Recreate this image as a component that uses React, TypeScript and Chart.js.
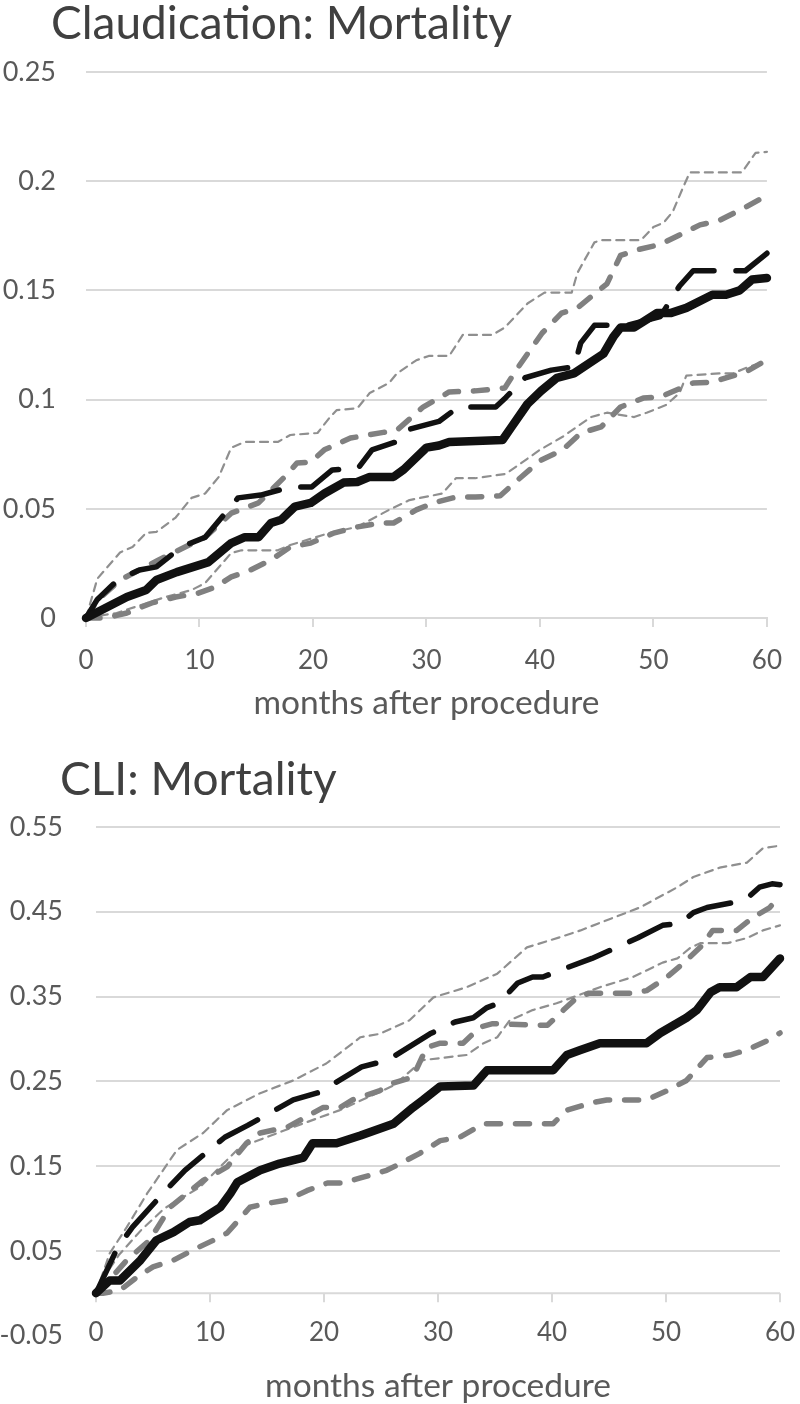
import React, { useEffect, useRef } from "react";
import { Chart, registerables } from "chart.js";

Chart.register(...registerables);

const FONT = "Lato, 'Open Sans', sans-serif";

// ---------- Claudication: Mortality ----------
const claudObsMonths = [0, 1.5, 3.6, 5.3, 6.2, 8, 10.8, 12.8, 14, 15.2, 16.3, 17.2, 18.4, 19.8, 21, 22.7, 23.9, 25, 27.1, 28, 30, 31.1, 32, 36.7, 37.5, 38.9, 40.1, 41.5, 43, 45.6, 46.5, 47.1, 48.3, 50.3, 51.5, 52.9, 55.2, 56.4, 57.6, 58.7, 60];
const claudObs = [0, 0.004, 0.0096, 0.0128, 0.0174, 0.021, 0.0256, 0.0343, 0.037, 0.037, 0.0435, 0.045, 0.051, 0.0527, 0.057, 0.062, 0.0623, 0.0646, 0.0646, 0.068, 0.078, 0.079, 0.0806, 0.0815, 0.0875, 0.098, 0.104, 0.11, 0.112, 0.121, 0.129, 0.133, 0.133, 0.1396, 0.1396, 0.142, 0.148, 0.148, 0.15, 0.155, 0.1557];

const claudPredMonths = [0, 1, 2.8, 4.7, 6.2, 8.4, 10.5, 13.4, 15.4, 18, 19.9, 21.7, 24, 25.2, 27.3, 28.2, 31.1, 32.8, 36.1, 37, 38.7, 41, 43, 43.6, 44.8, 47.7, 50.6, 52.3, 53.5, 58.1, 60];
const claudPred = [0, 0.0085, 0.0174, 0.022, 0.0234, 0.0325, 0.037, 0.055, 0.0563, 0.06, 0.06, 0.0678, 0.0687, 0.077, 0.0806, 0.086, 0.09, 0.0966, 0.0966, 0.101, 0.11, 0.1135, 0.115, 0.126, 0.134, 0.134, 0.138, 0.152, 0.159, 0.159, 0.167];

const claudUpperAMonths = [0, 1, 3, 6.4, 10.5, 12.8, 15.2, 17.5, 18.6, 19.8, 21, 23.3, 26.2, 27.4, 29.7, 32, 34.3, 36.9, 38.1, 40.2, 41.9, 43.3, 45.9, 47.1, 48.5, 50.6, 52.3, 54.1, 55.8, 58.1, 59.8];
const claudUpperA = [0, 0.008, 0.0174, 0.0266, 0.037, 0.048, 0.0527, 0.0646, 0.071, 0.0714, 0.077, 0.0824, 0.085, 0.086, 0.0966, 0.1035, 0.104, 0.1053, 0.115, 0.1305, 0.1396, 0.142, 0.153, 0.166, 0.1685, 0.171, 0.1754, 0.18, 0.182, 0.188, 0.193];

const claudLowerAMonths = [0, 1.8, 3.6, 5.8, 7.9, 9.9, 11.4, 12.8, 14.5, 16.3, 18, 19.8, 21.9, 23.9, 25.9, 27.1, 29.1, 30.6, 32.6, 34.3, 36.5, 38, 40, 42, 43.6, 45.4, 47.1, 49.1, 50.6, 52.3, 53.5, 55.2, 56.4, 58.1, 59.6];
const claudLowerA = [0, 0, 0.0023, 0.0069, 0.0096, 0.0114, 0.0142, 0.0188, 0.022, 0.0266, 0.0325, 0.0343, 0.039, 0.0417, 0.0435, 0.0435, 0.0495, 0.0527, 0.0554, 0.0554, 0.056, 0.063, 0.072, 0.077, 0.0847, 0.0875, 0.0966, 0.1007, 0.1012, 0.105, 0.1076, 0.108, 0.11, 0.1126, 0.117];

const claudUpperBMonths = [0, 1, 3, 4.1, 5.3, 6.2, 7.9, 9.3, 10.5, 11.7, 12.8, 14, 16.9, 18, 20.4, 21.5, 22.1, 23.9, 25, 26.7, 27.4, 29.1, 30.2, 32, 33.2, 35.8, 36.9, 38.9, 40.4, 42.8, 43.3, 44.8, 45.4, 48.9, 50, 50.9, 51.7, 52.6, 53.2, 57.8, 59, 60];
const claudUpperB = [0, 0.018, 0.03, 0.0325, 0.039, 0.0394, 0.046, 0.055, 0.057, 0.0646, 0.078, 0.0806, 0.0806, 0.0838, 0.0847, 0.092, 0.0952, 0.096, 0.103, 0.1076, 0.112, 0.118, 0.12, 0.12, 0.1296, 0.1296, 0.133, 0.144, 0.149, 0.149, 0.158, 0.172, 0.173, 0.173, 0.179, 0.181, 0.186, 0.197, 0.204, 0.204, 0.213, 0.2134];

const claudLowerBMonths = [0, 2.7, 7, 9.3, 10.5, 12.8, 13.7, 16.9, 18, 21.5, 23.9, 26.7, 28.5, 31.4, 32.6, 34.3, 37, 40, 42, 44.5, 45.9, 48.3, 49.4, 51.1, 52.3, 52.9, 55.8, 57, 58.4, 59.6];
const claudLowerB = [0, 0.0023, 0.0096, 0.0128, 0.016, 0.0298, 0.031, 0.031, 0.0334, 0.039, 0.0417, 0.0495, 0.054, 0.057, 0.064, 0.064, 0.066, 0.077, 0.083, 0.092, 0.094, 0.092, 0.094, 0.0975, 0.103, 0.111, 0.112, 0.112, 0.115, 0.117];

// ---------- CLI: Mortality ----------
const cliObsMonths = [0, 1.2, 2.1, 3.9, 5.3, 6.8, 8.2, 9.1, 10.9, 11.8, 12.4, 14.4, 16.1, 18.2, 19, 21.1, 23.2, 26.1, 27.8, 28.7, 30.2, 33.1, 34.3, 40.1, 41.3, 42.5, 44.2, 48.3, 49.5, 51.8, 52.7, 53.9, 54.7, 56.2, 57.4, 58.5, 60];
const cliObs = [0, 0.015, 0.015, 0.039, 0.0625, 0.072, 0.084, 0.086, 0.1014, 0.118, 0.131, 0.145, 0.153, 0.16, 0.177, 0.177, 0.186, 0.2, 0.219, 0.228, 0.244, 0.245, 0.263, 0.263, 0.281, 0.287, 0.295, 0.295, 0.307, 0.325, 0.334, 0.355, 0.361, 0.361, 0.373, 0.373, 0.395];

const cliPredMonths = [0, 1.9, 3.2, 6.3, 7.8, 11.3, 13.3, 17.3, 19.6, 23.3, 25.6, 29.3, 31.5, 33.1, 34.3, 35.3, 37, 38.3, 39.2, 41.3, 43.5, 47.5, 49.7, 51.2, 52.4, 53.6, 55.9, 57.2, 58.2, 59.3, 60];
const cliPred = [0, 0.054, 0.078, 0.124, 0.145, 0.184, 0.198, 0.228, 0.237, 0.267, 0.275, 0.306, 0.32, 0.325, 0.337, 0.342, 0.366, 0.373, 0.373, 0.384, 0.395, 0.419, 0.434, 0.436, 0.449, 0.455, 0.461, 0.467, 0.479, 0.483, 0.482];

const cliUpperAMonths = [0, 0.6, 2.7, 4.7, 6.5, 8, 9.4, 11.5, 13.2, 14.4, 16.8, 17.9, 19.9, 21.4, 22.5, 24.9, 26.1, 27.8, 29, 30.2, 32.2, 33.7, 34.8, 39.6, 41, 42.2, 43.3, 47.1, 48.3, 50.1, 51.5, 53, 54.1, 56.2, 57.6, 59.1, 60];
const cliUpperA = [0, 0.007, 0.039, 0.0625, 0.1014, 0.118, 0.133, 0.149, 0.177, 0.189, 0.196, 0.204, 0.219, 0.219, 0.228, 0.239, 0.248, 0.255, 0.29, 0.295, 0.295, 0.314, 0.318, 0.316, 0.334, 0.349, 0.354, 0.354, 0.357, 0.373, 0.389, 0.408, 0.428, 0.428, 0.443, 0.455, 0.469];

const cliLowerAMonths = [0, 0.6, 2.1, 3.6, 5, 6.8, 8.5, 10.3, 11.5, 13.5, 15, 16.8, 18.5, 20.3, 21.7, 23.2, 25.5, 26.7, 28.4, 30.2, 31.9, 34, 40.1, 41.3, 43.6, 44.8, 48.3, 50.1, 51.8, 53.6, 55.6, 57.1, 58.9, 60];
const cliLowerA = [0, 0, 0.0035, 0.019, 0.031, 0.039, 0.051, 0.0625, 0.071, 0.1014, 0.106, 0.11, 0.121, 0.13, 0.13, 0.136, 0.145, 0.153, 0.165, 0.18, 0.184, 0.2, 0.2, 0.216, 0.225, 0.228, 0.228, 0.239, 0.251, 0.278, 0.281, 0.287, 0.298, 0.307];

const cliUpperBMonths = [0, 1.2, 2.7, 4.5, 7.1, 9.4, 11.5, 14.4, 17.3, 20.2, 23.2, 24.9, 27.5, 29.6, 32.5, 35.2, 37.8, 40.7, 42.5, 44.8, 47.7, 51, 52.4, 54.7, 57.1, 58.5, 60];
const cliUpperB = [0, 0.047, 0.078, 0.118, 0.169, 0.189, 0.216, 0.236, 0.251, 0.271, 0.302, 0.306, 0.322, 0.349, 0.361, 0.377, 0.408, 0.42, 0.428, 0.44, 0.455, 0.479, 0.491, 0.502, 0.508, 0.525, 0.528];

const cliLowerBMonths = [0, 1, 2, 4, 6, 9.1, 12.6, 17.3, 21.4, 26.1, 28.7, 32.5, 34, 35.2, 36.3, 38.3, 40.4, 41.8, 44.2, 47.1, 49.7, 51, 52.1, 53, 55.4, 57.1, 58.5, 60];
const cliLowerB = [0, 0.025, 0.045, 0.075, 0.1, 0.125, 0.172, 0.196, 0.216, 0.245, 0.275, 0.281, 0.295, 0.302, 0.322, 0.334, 0.342, 0.349, 0.361, 0.373, 0.39, 0.395, 0.407, 0.413, 0.413, 0.419, 0.428, 0.434];

// ---------- axes ----------
const xTickMonths = [0, 10, 20, 30, 40, 50, 60];
const claudYTicks = [0, 0.05, 0.1, 0.15, 0.2, 0.25];
const cliYTicks = [-0.05, 0.05, 0.15, 0.25, 0.35, 0.45, 0.55];
const xAxisTitle = "months after procedure";

const pts = (xs: number[], ys: number[]) => xs.map((x, i) => ({ x, y: ys[i] }));

const GRID = "#d9d9d9";
const TEXT = "#595959";
const TICK_FONT_X = 26;
const TICK_FONT_Y = 27;

const lineStyle = {
  obs: { borderColor: "#111111", borderWidth: 8.5, borderDash: [] as number[] },
  pred: { borderColor: "#111111", borderWidth: 5.5, borderDash: [44, 22] },
  thick: { borderColor: "#808080", borderWidth: 5.5, borderDash: [14, 15] },
  thin: { borderColor: "#8f8f8f", borderWidth: 2.2, borderDash: [8, 6] },
};

const titlePlugin = {
  id: "panelTitle",
  afterDraw(chart: any, _args: any, opts: any) {
    const { ctx } = chart;
    ctx.save();
    ctx.font = `${opts.size}px ${FONT}`;
    ctx.fillStyle = "#404040";
    ctx.textBaseline = "alphabetic";
    ctx.textAlign = "left";
    ctx.fillText(opts.text, opts.x, opts.y);
    ctx.restore();
  },
};

// For the CLI panel: the category axis crosses at y = 0 while its labels sit at the bottom row
const zeroAxisPlugin = {
  id: "zeroAxis",
  beforeDatasetsDraw(chart: any, _args: any, opts: any) {
    if (!opts.enabled) return;
    const { ctx, scales, chartArea } = chart;
    const y0 = scales.y.getPixelForValue(0);
    ctx.save();
    ctx.strokeStyle = GRID;
    ctx.lineWidth = 2;
    ctx.beginPath();
    ctx.moveTo(chartArea.left, y0);
    ctx.lineTo(chartArea.right, y0);
    for (const m of xTickMonths) {
      const px = scales.x.getPixelForValue(m);
      ctx.moveTo(px, y0);
      ctx.lineTo(px, y0 + 9);
    }
    ctx.stroke();
    ctx.fillStyle = TEXT;
    ctx.font = `${TICK_FONT_X}px ${FONT}`;
    ctx.textAlign = "center";
    ctx.textBaseline = "middle";
    for (const m of xTickMonths) {
      ctx.fillText(String(m), scales.x.getPixelForValue(m), chartArea.bottom + opts.labelOffset);
    }
    ctx.restore();
  },
};

type Series = { data: { x: number; y: number }[]; style: any };

function buildConfig(p: {
  series: Series[];
  yMin: number;
  yMax: number;
  yTicks: number[];
  H: number;
  left: number;
  right: number;
  top: number;
  bottom: number;
  title: string;
  titleX: number;
  titleY: number;
  xLabelPad: number;
  yLabelPad: number;
  xAxisAtBottom: boolean;
  xTitlePad: number;
}) {
  const isLabelTick = (v: number) => p.yTicks.some((t) => Math.abs(t - v) < 1e-6);
  return {
    type: "line" as const,
    data: {
      datasets: p.series.map((s) => ({
        data: s.data,
        borderColor: s.style.borderColor,
        borderWidth: s.style.borderWidth,
        borderDash: s.style.borderDash,
        borderCapStyle: "round",
        borderJoinStyle: "round",
        pointRadius: 0,
        tension: 0,
        fill: false,
        clip: false,
      })),
    },
    options: {
      responsive: false,
      animation: false,
      events: [],
      layout: { padding: { top: p.top, right: 800 - p.right, bottom: 0, left: 0 } },
      plugins: {
        legend: { display: false },
        tooltip: { enabled: false },
        panelTitle: { text: p.title, x: p.titleX, y: p.titleY, size: 46 },
        zeroAxis: { enabled: !p.xAxisAtBottom, labelOffset: p.xLabelPad },
      },
      scales: {
        x: {
          type: "linear",
          min: 0,
          max: 60,
          afterFit: (s: any) => {
            s.height = p.H - p.bottom;
          },
          afterBuildTicks: (s: any) => {
            s.ticks = xTickMonths.map((v) => ({ value: v }));
          },
          border: { display: p.xAxisAtBottom, color: GRID, width: 2 },
          grid: {
            display: p.xAxisAtBottom,
            drawOnChartArea: false,
            drawTicks: p.xAxisAtBottom,
            tickLength: 9,
            color: GRID,
            lineWidth: 2,
          },
          ticks: {
            display: p.xAxisAtBottom,
            autoSkip: false,
            maxRotation: 0,
            padding: p.xLabelPad,
            color: TEXT,
            font: { family: FONT, size: TICK_FONT_X },
            callback: (v: any) => String(v),
          },
          title: {
            display: true,
            text: xAxisTitle,
            color: TEXT,
            font: { family: FONT, size: 33.5, lineHeight: 1.0 },
            padding: { top: 0, bottom: p.xTitlePad },
          },
        },
        y: {
          type: "linear",
          min: p.yMin,
          max: p.yMax,
          afterFit: (s: any) => {
            s.width = p.left;
          },
          afterBuildTicks: (s: any) => {
            const vals: number[] = [];
            for (let k = Math.round(p.yMin / 0.05); k <= Math.round(p.yMax / 0.05); k++) vals.push(Math.round(k * 5) / 100);
            s.ticks = vals.map((v) => ({ value: v }));
          },
          border: { display: false },
          grid: {
            drawTicks: false,
            lineWidth: 2,
            color: (c: any) => {
              const v = c.tick ? c.tick.value : 0;
              if (!isLabelTick(v)) return "rgba(0,0,0,0)";
              if (v < 0) return "rgba(0,0,0,0)";
              return GRID;
            },
          },
          ticks: {
            autoSkip: false,
            padding: p.yLabelPad,
            color: TEXT,
            font: { family: FONT, size: TICK_FONT_Y },
            callback: (v: any) => (isLabelTick(Number(v)) ? String(Math.round(Number(v) * 100) / 100) : ""),
          },
        },
      },
    },
    plugins: [titlePlugin, zeroAxisPlugin],
  };
}

function Panel(props: { cfg: any; top: number; H: number }) {
  const ref = useRef<HTMLCanvasElement | null>(null);
  useEffect(() => {
    if (!ref.current) return;
    const chart = new Chart(ref.current, props.cfg);
    return () => chart.destroy();
  }, []);
  return (
    <div style={{ position: "absolute", left: 0, top: props.top, width: 800, height: props.H }}>
      <canvas ref={ref} width={800} height={props.H} style={{ width: 800, height: props.H, display: "block" }} />
    </div>
  );
}

export default function App() {
  const claudCfg = buildConfig({
    series: [
      { data: pts(claudObsMonths, claudObs), style: lineStyle.obs },
      { data: pts(claudPredMonths, claudPred), style: lineStyle.pred },
      { data: pts(claudUpperAMonths, claudUpperA), style: lineStyle.thick },
      { data: pts(claudLowerAMonths, claudLowerA), style: lineStyle.thick },
      { data: pts(claudUpperBMonths, claudUpperB), style: lineStyle.thin },
      { data: pts(claudLowerBMonths, claudLowerB), style: lineStyle.thin },
    ],
    yMin: 0,
    yMax: 0.25,
    yTicks: claudYTicks,
    H: 730,
    left: 86,
    right: 775,
    top: 72,
    bottom: 618,
    title: "Claudication: Mortality",
    titleX: 51,
    titleY: 39,
    xLabelPad: 18,
    yLabelPad: 30,
    xAxisAtBottom: true,
    xTitlePad: 10,
  });
  const cliCfg = buildConfig({
    series: [
      { data: pts(cliObsMonths, cliObs), style: lineStyle.obs },
      { data: pts(cliPredMonths, cliPred), style: lineStyle.pred },
      { data: pts(cliUpperAMonths, cliUpperA), style: lineStyle.thick },
      { data: pts(cliLowerAMonths, cliLowerA), style: lineStyle.thick },
      { data: pts(cliUpperBMonths, cliUpperB), style: lineStyle.thin },
      { data: pts(cliLowerBMonths, cliLowerB), style: lineStyle.thin },
    ],
    yMin: -0.05,
    yMax: 0.55,
    yTicks: cliYTicks,
    H: 674,
    left: 96,
    right: 780,
    top: 97,
    bottom: 605.6,
    title: "CLI: Mortality",
    titleX: 60,
    titleY: 65,
    xLabelPad: -3,
    yLabelPad: 33,
    xAxisAtBottom: false,
    xTitlePad: 1,
  });
  return (
    <div style={{ position: "absolute", left: 0, top: 0, width: 800, height: 1404, background: "#ffffff" }}>
      <Panel cfg={claudCfg} top={0} H={730} />
      <Panel cfg={cliCfg} top={730} H={674} />
    </div>
  );
}
